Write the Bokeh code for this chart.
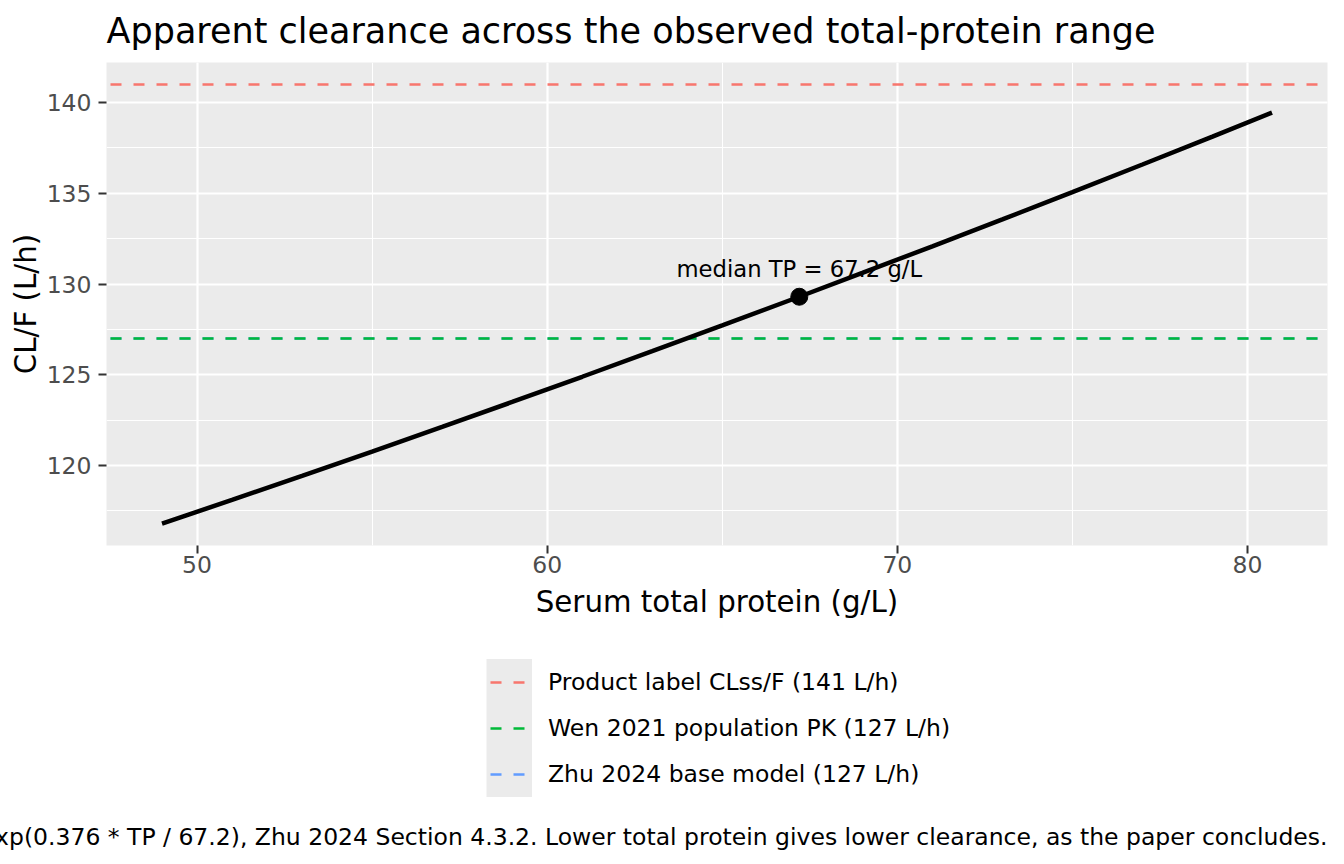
from bokeh.plotting import figure
from bokeh.layouts import column
from bokeh.models import Range1d, SingleIntervalTicker, Legend, LegendItem, Title
from bokeh.embed import file_html
from bokeh.resources import INLINE
from bokeh.core.properties import value

FONT = "DejaVu Sans"

# ---- data ----
tp = [49.0, 51.0, 53.0, 55.0, 57.0, 59.0, 61.0, 63.0, 65.0, 67.2,
      69.0, 71.0, 73.0, 75.0, 77.0, 79.0, 80.7]
cl = [116.80, 118.10, 119.43, 120.77, 122.13, 123.50, 124.89, 126.30, 127.72, 129.30,
      130.61, 132.08, 133.56, 135.07, 136.59, 138.12, 139.45]

median_tp = [67.2]
median_cl = [129.3]
median_label = ["median TP = 67.2 g/L"]

ref_labels = ["Product label CLss/F (141 L/h)",
              "Wen 2021 population PK (127 L/h)",
              "Zhu 2024 base model (127 L/h)"]
ref_values = [141, 127, 127]
ref_colors = ["#F8766D", "#00BA38", "#619CFF"]
ref_draw_order = [0, 2, 1]

title_text = "Apparent clearance across the observed total-protein range"
x_title = "Serum total protein (g/L)"
y_title = "CL/F (L/h)"
caption_text = ("xp(0.376 * TP / 67.2), Zhu 2024 Section 4.3.2. "
                "Lower total protein gives lower clearance, as the paper concludes.")

# ---- ranges with ggplot-like 5% expansion ----
x0, x1 = min(tp), max(tp)
xp = 0.05 * (x1 - x0)
yall = cl + ref_values
y0, y1 = min(yall), max(yall)
yp = 0.05 * (y1 - y0)
xr = Range1d(x0 - xp, x1 + xp)
yr = Range1d(y0 - yp, y1 + yp)

FW, FH = 1221, 483
BL, BR, BT, BB = 106, 8, 62, 90
p = figure(frame_width=FW, frame_height=FH, x_range=xr, y_range=yr,
           output_backend="svg", toolbar_location=None,
           min_border_left=BL, min_border_right=BR, min_border_top=BT,
           min_border_bottom=BB)

p.background_fill_color = "#EBEBEB"
p.border_fill_color = "white"
p.outline_line_color = None

p.title.text = title_text
p.title.text_font = FONT
p.title.text_font_size = "35px"
p.title.text_font_style = "normal"
p.title.text_color = "black"
p.title.vertical_align = "top"
p.title.standoff = 20

p.xaxis.ticker = SingleIntervalTicker(interval=10, num_minor_ticks=2)
p.yaxis.ticker = SingleIntervalTicker(interval=5, num_minor_ticks=2)
for ax in (p.xaxis, p.yaxis):
    ax.axis_line_color = None
    ax.major_tick_line_color = "#333333"
    ax.major_tick_line_width = 2
    ax.major_tick_out = 8
    ax.major_tick_in = 0
    ax.minor_tick_line_color = None
    ax.major_label_text_font = FONT
    ax.major_label_text_font_size = "23.5px"
    ax.major_label_text_color = "#4D4D4D"
    ax.axis_label_text_font = FONT
    ax.axis_label_text_font_size = "29.3px"
    ax.axis_label_text_font_style = "normal"
    ax.axis_label_text_color = "black"
p.xaxis.axis_label = x_title
p.yaxis.axis_label = y_title
p.xaxis.major_label_standoff = 2
p.xaxis.axis_label_standoff = 9
p.yaxis.major_label_standoff = 7
p.yaxis.axis_label_standoff = 1

for g in (p.xgrid, p.ygrid):
    g.grid_line_color = "white"
    g.grid_line_width = 2.2
    g.minor_grid_line_color = "white"
    g.minor_grid_line_width = 1.1

# ---- reference lines ----
line_style = dict(line_width=2.5, line_dash="11 12", line_dash_offset=19)
for i in ref_draw_order:
    p.line(x=[xr.start, xr.end], y=[ref_values[i], ref_values[i]],
           line_color=ref_colors[i], **line_style)

# ---- model curve ----
p.line(x=tp, y=cl, line_color="black", line_width=4.5)
p.scatter(x=median_tp, y=median_cl, size=17, color="black")
p.text(x=median_tp, y=median_cl, text=median_label, text_align="center",
       text_baseline="alphabetic", y_offset=-28, text_font=value(FONT),
       text_font_size="22.7px", text_color="black")

# ---- legend + caption panel below the plot ----
W2, H2 = BL + FW + BR, 215
p2 = figure(width=W2, height=H2, x_range=Range1d(0, 1), y_range=Range1d(0, 1),
            output_backend="svg", toolbar_location=None,
            x_axis_type=None, y_axis_type=None,
            min_border_left=BL, min_border_right=BR, min_border_top=0, min_border_bottom=0)
p2.grid.visible = False
p2.outline_line_color = None
p2.background_fill_color = "white"
p2.border_fill_color = "white"

# legend key helpers (NaN points: draw nothing, only their legend keys)
nan = float("nan")
key_bg = p2.line(x=[nan], y=[nan], line_color="#EBEBEB", line_width=47)
key_lines = [p2.line(x=[nan], y=[nan], line_color=ref_colors[i], **line_style)
             for i in range(len(ref_labels))]

items = [LegendItem(label=ref_labels[i], renderers=[key_bg, key_lines[i]])
         for i in range(len(ref_labels))]
legend = Legend(items=items, location=(380, 23), orientation="vertical",
                glyph_width=46, glyph_height=46, label_height=46, spacing=0,
                padding=0, margin=0, label_standoff=16,
                label_text_font=FONT, label_text_font_size="23.5px",
                label_text_color="black",
                border_line_color=None, background_fill_alpha=0)
p2.add_layout(legend, "center")

cap = Title(text=caption_text, align="right", text_font=FONT,
            text_font_size="23.5px", text_font_style="normal",
            text_color="black", standoff=0)
p2.add_layout(cap, "below")

open("out.html", "w").write(file_html(column(p, p2, spacing=0), INLINE))
